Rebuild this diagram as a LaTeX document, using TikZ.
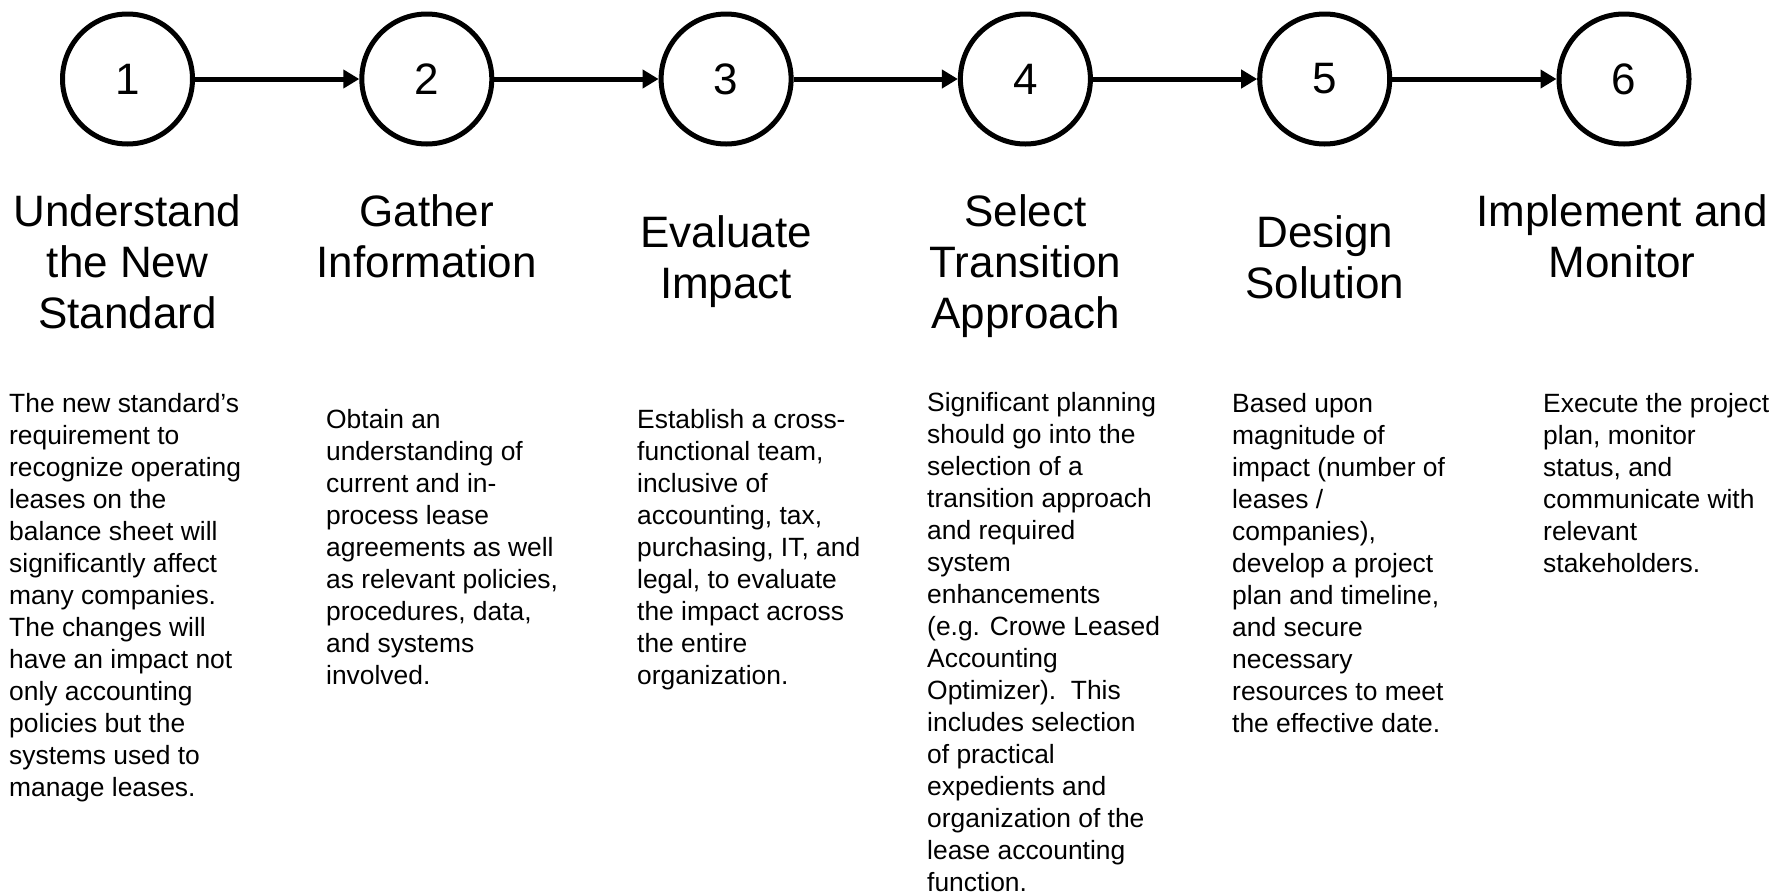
\documentclass[tikz,border=0pt]{standalone}
\usepackage{fontspec}
\setmainfont{Liberation Sans}
\usetikzlibrary{arrows.meta}

\tikzset{
  stage/.style={circle,draw,line width=5pt,minimum size=130pt,inner sep=0pt,font=\fontsize{44}{51}\selectfont},
  flow/.style={line width=5pt,-{Triangle[length=16pt,width=18pt]}},
  heading/.style={anchor=north,align=center,inner sep=0pt,font=\fontsize{44}{51}\selectfont},
  detail/.style={anchor=north west,align=left,inner sep=0pt,font=\fontsize{26.4}{32}\selectfont}
}

\begin{document}
\begin{tikzpicture}[x=1pt,y=-1pt]
\useasboundingbox (0,0) rectangle (1776,892);
% the six steps
\node[stage] (s1) at (127.5,79) {1};
\node[stage] (s2) at (426.8,79) {2};
\node[stage] (s3) at (726.1,79) {3};
\node[stage] (s4) at (1025.4,79) {4};
\node[stage] (s5) at (1324.7,79) {5};
\node[stage] (s6) at (1624,79) {6};
\draw[flow] (s1) -- (s2);
\draw[flow] (s2) -- (s3);
\draw[flow] (s3) -- (s4);
\draw[flow] (s4) -- (s5);
\draw[flow] (s5) -- (s6);
% titles
\node[heading] (t1) at (127.5,194) {Understand\\the New\\Standard};
\node[heading] (t2) at (426.8,194) {Gather\\Information};
\node[heading] (t3) at (726.1,215) {Evaluate\\Impact};
\node[heading] (t4) at (1025.4,194) {Select\\Transition\\Approach};
\node[heading] (t5) at (1324.7,215) {Design\\Solution};
\node[heading] (t6) at (1622,194) {Implement and\\Monitor};
% what each step means
\node[detail] (d1) at (9,393) {The new standard’s\\requirement to\\recognize operating\\leases on the\\balance sheet will\\significantly affect\\many companies.\\The changes will\\have an impact not\\only accounting\\policies but the\\systems used to\\manage leases.};
\node[detail] (d2) at (326,409) {Obtain an\\understanding of\\current and in-\\process lease\\agreements as well\\as relevant policies,\\procedures, data,\\and systems\\involved.};
\node[detail] (d3) at (637,409) {Establish a cross-\\functional team,\\inclusive of\\accounting, tax,\\purchasing, IT, and\\legal, to evaluate\\the impact across\\the entire\\organization.};
\node[detail] (d4) at (927,392) {Significant planning\\should go into the\\selection of a\\transition approach\\and required\\system\\enhancements\\(e.g. Crowe Leased\\Accounting\\Optimizer).\ \ This\\includes selection\\of practical\\expedients and\\organization of the\\lease accounting\\function.};
\node[detail] (d5) at (1232,393) {Based upon\\magnitude of\\impact (number of\\leases /\\companies),\\develop a project\\plan and timeline,\\and secure\\necessary\\resources to meet\\the effective date.};
\node[detail] (d6) at (1543,393) {Execute the project\\plan, monitor\\status, and\\communicate with\\relevant\\stakeholders.};
\end{tikzpicture}
\end{document}
